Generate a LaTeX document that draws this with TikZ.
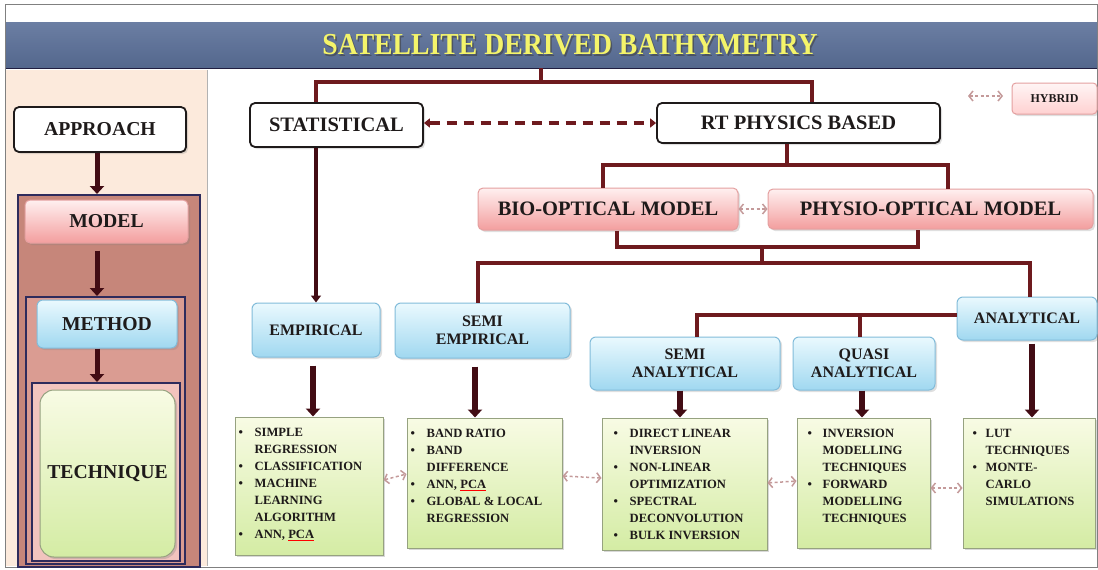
\documentclass[tikz,border=0pt]{standalone}
\usepackage{fontspec}
\setmainfont{Liberation Serif}
\usetikzlibrary{arrows.meta,shadows,calc}
\definecolor{conn}{HTML}{6E1A1E}
\definecolor{darkarr}{HTML}{420C14}
\definecolor{txt}{HTML}{1E1A1A}
\definecolor{peach}{HTML}{FCEADC}
\definecolor{bandtop}{HTML}{6B7EA3}
\definecolor{bandbot}{HTML}{54678D}
\definecolor{titley}{HTML}{F4F46A}
\definecolor{navy}{HTML}{2E2B5C}
\definecolor{hyb}{HTML}{C49A9A}
\newcommand{\bigf}{\fontsize{20.5}{23}\selectfont\bfseries}
\newcommand{\midf}{\fontsize{16}{18.5}\selectfont\bfseries}
\newcommand{\leftf}{\fontsize{19.7}{22}\selectfont\bfseries}
\newcommand{\listf}{\fontsize{12.6}{17}\selectfont\bfseries}
\newcommand{\pcaU}{{\color{red}\underline{\textcolor{txt}{PCA}}}}
\begin{document}
\begin{tikzpicture}[x=1pt,y=-1pt,
  base/.style={align=center, inner sep=0pt, text=txt},
  whitebox/.style={base, rounded corners=5pt, fill=white, draw=txt, line width=1.8pt,
     drop shadow={opacity=0.25, shadow xshift=2pt, shadow yshift=-2pt}, font=\bigf},
  pinkbox/.style={base, rounded corners=5pt, top color=red!6, bottom color={rgb,255:red,243;green,158;blue,158},
     draw={rgb,255:red,228;green,160;blue,160}, line width=1pt,
     drop shadow={opacity=0.25, shadow xshift=2pt, shadow yshift=-2pt}},
  bluebox/.style={base, rounded corners=6pt, top color={rgb,255:red,234;green,249;blue,254}, bottom color={rgb,255:red,160;green,216;blue,240},
     draw={rgb,255:red,130;green,188;blue,218}, line width=1pt,
     drop shadow={opacity=0.25, shadow xshift=2pt, shadow yshift=-2pt}, font=\midf},
  listbox/.style={base, top color={rgb,255:red,248;green,251;blue,228}, bottom color={rgb,255:red,212;green,236;blue,164},
     draw={rgb,255:red,150;green,162;blue,128}, line width=1pt,
     drop shadow={opacity=0.3, shadow xshift=2pt, shadow yshift=-2pt}},
  listtxt/.style={base, anchor=north west, font=\listf, align=left},
  frame/.style={draw=navy, line width=2pt, inner sep=0pt},
  conn/.style={draw=conn, line width=3.8pt},
  thinarrow/.style={draw=darkarr, line width=3.2pt, -{Triangle[length=7pt,width=10pt]}},
  thickarrow/.style={draw=darkarr, line width=6.5pt, -{Triangle[length=8pt,width=14pt]}},
  dasharr/.style={draw=conn, line width=3.5pt, dash pattern=on 10pt off 7pt, {Triangle[length=6pt,width=9pt]}-{Triangle[length=6pt,width=9pt]}},
  hybarr/.style={draw=hyb, line width=1.5pt, dash pattern=on 3pt off 2.5pt, {Straight Barb[length=4pt,width=10pt]}-{Straight Barb[length=4pt,width=10pt]}}
]
\useasboundingbox (0,0) rectangle (1098,570);
\fill[white] (0,0) rectangle (1098,570);
% outer frame
\draw[gray, line width=1pt] (5,4) rectangle (1097,567);
% left peach panel
\fill[peach] (6,70) rectangle (207,566);
\draw[gray!60, line width=1pt] (207,70) -- (207,566);
% header band
\node[inner sep=0pt, minimum width=1091pt, minimum height=46pt, top color=bandtop, bottom color=bandbot] (band) at (551.5,45) {};
\draw[navy!70!black, line width=1.2pt] (band.south west) -- (band.south east);
\node[font=\fontsize{27.7}{30}\selectfont\bfseries, text=black!75, opacity=0.6] at (571.5,47) {\scalebox{1}[1.1]{SATELLITE DERIVED BATHYMETRY}};
\node[font=\fontsize{27.7}{30}\selectfont\bfseries, text=titley] (title) at (570,45) {\scalebox{1}[1.1]{SATELLITE DERIVED BATHYMETRY}};

% ---------- left panel ----------
\node[whitebox, font=\leftf, minimum width=172pt, minimum height=45pt] (approach) at (100,129.5) {APPROACH};
\node[frame, fill={rgb,255:red,198;green,134;blue,122}, minimum width=182pt, minimum height=372pt] (modelframe) at (109,381) {};
\node[frame, fill={rgb,255:red,218;green,156;blue,146}, minimum width=159pt, minimum height=267pt] (methodframe) at (105.5,430.5) {};
\node[frame, fill={rgb,255:red,242;green,196;blue,190}, minimum width=148pt, minimum height=178pt] (techframe) at (106,472) {};
\node[pinkbox, font=\leftf, minimum width=163pt, minimum height=43pt] (model) at (106.5,221.5) {MODEL};
\node[bluebox, font=\leftf, minimum width=140pt, minimum height=48pt] (method) at (107,324) {METHOD};
\node[listbox, rounded corners=14pt, font=\leftf, minimum width=135pt, minimum height=167pt] (technique) at (107.5,473.5) {TECHNIQUE};
\coordinate (ax) at (97,0);
\draw[thickarrow, line width=5pt] (approach.south -| ax) -- (modelframe.north -| ax);
\draw[thickarrow, line width=5pt, shorten <=7pt] (model.south -| ax) -- (methodframe.north -| ax);
\draw[thickarrow, line width=5pt] (method.south -| ax) -- (techframe.north -| ax);

% ---------- right side boxes ----------
\node[whitebox, minimum width=173pt, minimum height=44pt] (stat) at (336.5,125) {STATISTICAL};
\node[whitebox, minimum width=283pt, minimum height=40pt] (rt) at (798.5,123) {RT PHYSICS BASED};
\node[pinkbox, font=\bigf, minimum width=260pt, minimum height=42pt] (bio) at (608,209) {BIO-OPTICAL MODEL};
\node[pinkbox, font=\bigf, minimum width=325pt, minimum height=40pt] (physio) at (930.5,209) {PHYSIO-OPTICAL MODEL};
\node[pinkbox, rounded corners=4pt, top color=red!4, bottom color=red!18, font=\fontsize{12}{13}\selectfont\bfseries, minimum width=85pt, minimum height=31pt] (hybrid) at (1054.5,98.5) {HYBRID};
\coordinate (hybL) at (968,96);
\coordinate (hybR) at (1003,96);
\draw[hybarr] (hybL) -- (hybR);

\node[bluebox, minimum width=128pt, minimum height=54pt] (empirical) at (316,330) {EMPIRICAL};
\node[bluebox, minimum width=175pt, minimum height=55pt] (semiemp) at (482.5,330.5) {SEMI\\EMPIRICAL};
\node[bluebox, minimum width=140pt, minimum height=43pt] (analytical) at (1027,318.5) {ANALYTICAL};
\node[bluebox, minimum width=190pt, minimum height=53pt] (semiana) at (685,363.5) {SEMI\\ANALYTICAL};
\node[bluebox, minimum width=142pt, minimum height=53pt] (quasi) at (864,363.5) {QUASI\\ANALYTICAL};

\node[listbox, minimum width=148pt, minimum height=138pt] (list1) at (309,486) {};
\node[listbox, minimum width=155pt, minimum height=130pt] (list2) at (484.5,483) {};
\node[listbox, minimum width=165pt, minimum height=132pt] (list3) at (684.5,484) {};
\node[listbox, minimum width=133pt, minimum height=130pt] (list4) at (863.5,483) {};
\node[listbox, minimum width=132pt, minimum height=130pt] (list5) at (1029,483) {};

\node[listtxt] (t1) at ([shift={(4,8)}]list1.north west) {\begin{tabular}{@{}p{16pt}@{}l@{}}
\textbullet & SIMPLE\\ & REGRESSION\\ \textbullet & CLASSIFICATION\\ \textbullet & MACHINE\\ & LEARNING\\ & ALGORITHM\\ \textbullet & ANN, \pcaU\end{tabular}};
\node[listtxt] (t2) at ([shift={(4,8)}]list2.north west) {\begin{tabular}{@{}p{16pt}@{}l@{}}
\textbullet & BAND RATIO\\ \textbullet & BAND\\ & DIFFERENCE\\ \textbullet & ANN, \pcaU\\ \textbullet & GLOBAL \& LOCAL\\ & REGRESSION\end{tabular}};
\node[listtxt] (t3) at ([shift={(12,8)}]list3.north west) {\begin{tabular}{@{}p{16pt}@{}l@{}}
\textbullet & DIRECT LINEAR\\ & INVERSION\\ \textbullet & NON-LINEAR\\ & OPTIMIZATION\\ \textbullet & SPECTRAL\\ & DECONVOLUTION\\ \textbullet & BULK INVERSION\end{tabular}};
\node[listtxt] (t4) at ([shift={(11,8)}]list4.north west) {\begin{tabular}{@{}p{15pt}@{}l@{}}
\textbullet & INVERSION\\ & MODELLING\\ & TECHNIQUES\\ \textbullet & FORWARD\\ & MODELLING\\ & TECHNIQUES\end{tabular}};
\node[listtxt] (t5) at ([shift={(10,8)}]list5.north west) {\begin{tabular}{@{}p{13pt}@{}l@{}}
\textbullet & LUT\\ & TECHNIQUES\\ \textbullet & MONTE-\\ & CARLO\\ & SIMULATIONS\end{tabular}};

% ---------- connectors ----------
\coordinate (jt) at (541,82);
\coordinate (jrt) at (812,82);
\draw[conn] (jt |- band.south) -- (jt);
\draw[conn] (stat.north -| empirical.north) |- (jt) -- (jrt) -- (jrt |- rt.north);
\draw[dasharr] (stat.east |- rt.west) -- (rt.west);

\coordinate (j1) at (787,165);
\coordinate (j1l) at (603,165);
\coordinate (j1r) at (948,165);
\draw[conn] (rt.south -| j1) -- (j1);
\draw[conn] (j1l |- bio.north) |- (j1r) -- (j1r |- physio.north);
\draw[hybarr] (bio.east) -- (physio.west);

\coordinate (j2l) at (617,247);
\coordinate (j2r) at (918,247);
\coordinate (j2) at (762,247);
\coordinate (j3) at (762,263);
\coordinate (j3l) at (478,263);
\coordinate (j3r) at (1030,263);
\draw[conn] (bio.south -| j2l) |- (j2r) -- (physio.south -| j2r);
\draw[conn] (j2) -- (j3);
\draw[conn] (j3l |- semiemp.north) |- (j3r) -- (j3r |- analytical.north);

\coordinate (j4) at (697,315);
\coordinate (j4q) at (860,315);
\draw[conn] (analytical.west |- j4) -- (j4) -- (j4 |- semiana.north);
\draw[conn] (j4q) -- (j4q |- quasi.north);

\draw[thinarrow] (stat.south -| empirical.north) -- (empirical.north);

\coordinate (a1) at (313,0);
\coordinate (a2) at (475,0);
\coordinate (a3) at (680,0);
\coordinate (a4) at (862,0);
\coordinate (a5) at (1032,0);
\draw[thickarrow, shorten <=8pt] (empirical.south -| a1) -- (list1.north -| a1);
\draw[thickarrow, shorten <=8pt] (semiemp.south -| a2) -- (list2.north -| a2);
\draw[thickarrow] (semiana.south -| a3) -- (list3.north -| a3);
\draw[thickarrow] (quasi.south -| a4) -- (list4.north -| a4);
\draw[thickarrow, shorten <=3pt] (analytical.south -| a5) -- (list5.north -| a5);

\draw[hybarr] ([yshift=6pt]list1.east) -- ([yshift=9pt]list2.west);
\draw[hybarr] ([yshift=7pt]list2.east) -- ([yshift=6pt]list3.west);
\draw[hybarr] ([yshift=1pt]list3.east) -- ([yshift=2pt]list4.west);
\draw[hybarr] ([yshift=-5pt]list4.east) -- ([yshift=-5pt]list5.west);
\end{tikzpicture}
\end{document}
